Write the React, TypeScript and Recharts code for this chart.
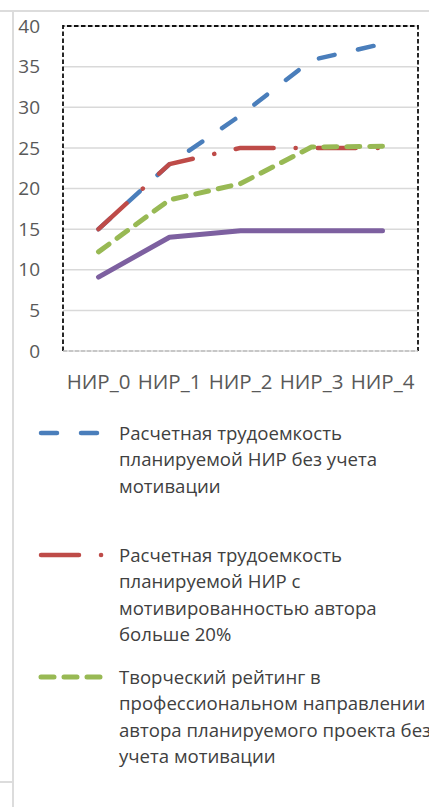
import { LineChart, Line, XAxis, YAxis, CartesianGrid, usePlotArea } from "recharts";

const categories = ["НИР_0", "НИР_1", "НИР_2", "НИР_3", "НИР_4"];
const yTicks = [0, 5, 10, 15, 20, 25, 30, 35, 40];

const laborNoMotivation = [15, 23, 29, 35.8, 37.8];
const laborMotivated = [15, 23, 25, 25, 25];
const creativeRating = [12.2, 18.6, 20.6, 25.1, 25.2];
const fourthSeries = [9.1, 14, 14.8, 14.8, 14.8];

const legendNames = [
  "Расчетная трудоемкость\nпланируемой НИР без учета\nмотивации",
  "Расчетная трудоемкость\nпланируемой НИР с\nмотивированностью автора\nбольше 20%",
  "Творческий рейтинг в\nпрофессиональном направлении\nавтора планируемого проекта без\nучета мотивации",
];

const data = categories.map((c, i) => ({
  name: c,
  blue: laborNoMotivation[i],
  red: laborMotivated[i],
  green: creativeRating[i],
  purple: fourthSeries[i],
}));

const series = [
  { key: "blue", color: "#4A7EBB", width: 4.5, dash: "16 24" },
  { key: "red", color: "#BE4B48", width: 4.5, dash: "38 22 0.1 22" },
  { key: "green", color: "#98B954", width: 5, dash: "13 10" },
  { key: "purple", color: "#7D60A0", width: 5, dash: undefined },
];

const font = "'Open Sans', sans-serif";
const yTickStyle = { fill: "#595959", fontSize: 19, fontFamily: font };
const xTickStyle = { fill: "#595959", fontSize: 20.5, fontFamily: font };

function PlotFrame() {
  const p = usePlotArea();
  if (!p) return null;
  const { x, y, width, height } = p;
  return (
    <path
      d={`M${x},${y + height} L${x},${y} L${x + width},${y} L${x + width},${y + height}`}
      fill="none"
      stroke="#111"
      strokeWidth={1.8}
      strokeDasharray="4.5 2.5"
    />
  );
}

export default function App() {
  return (
    <div style={{ position: "absolute", left: 0, top: 0, width: 429, height: 807, background: "#fff", overflow: "hidden", fontFamily: font }}>
      {/* sheet borders */}
      <div style={{ position: "absolute", left: 0, top: 10, width: 429, height: 2, background: "#dcdcdc" }} />
      <div style={{ position: "absolute", left: 12, top: 10, width: 2, height: 797, background: "#dcdcdc" }} />
      <div style={{ position: "absolute", left: 0, top: 781, width: 12, height: 2, background: "#dcdcdc" }} />

      <div style={{ position: "absolute", left: 0, top: 0 }}>
        <LineChart width={429} height={400} data={data} margin={{ top: 26, right: 11, left: 0, bottom: 0 }}>
          <CartesianGrid vertical={false} stroke="#d9d9d9" strokeWidth={1.5} />
          <XAxis
            dataKey="name"
            padding={{ left: 35.5, right: 35.5 }}
            height={49}
            tickLine={false}
            tickSize={0}
            tickMargin={23}
            axisLine={{ stroke: "#bfbfbf", strokeWidth: 1.5, strokeDasharray: "4 2" }}
            tick={xTickStyle}
            interval={0}
          />
          <YAxis
            width={63}
            domain={[0, 40]}
            ticks={yTicks}
            axisLine={false}
            tickLine={false}
            tickSize={0}
            tickMargin={23}
            tick={yTickStyle}
          />
          <PlotFrame />
          {series.map((s) => (
            <Line
              key={s.key}
              dataKey={s.key}
              stroke={s.color}
              strokeWidth={s.width}
              strokeDasharray={s.dash}
              strokeLinecap="round"
              strokeLinejoin="round"
              dot={false}
              activeDot={false}
              isAnimationActive={false}
            />
          ))}
        </LineChart>
      </div>

      {/* legend */}
      <div style={{ position: "absolute", left: 0, top: 420 }}>
        {legendNames.map((name, i) => {
          const s = series[i];
          return (
            <div key={i} style={{ position: "relative", height: 122 }}>
              <svg width={80} height={12} style={{ position: "absolute", left: 35, top: 7 }}>
                <line
                  x1={6}
                  y1={6}
                  x2={68}
                  y2={6}
                  stroke={s.color}
                  strokeWidth={s.width}
                  strokeDasharray={s.dash}
                  strokeLinecap="round"
                />
              </svg>
              <div
                style={{
                  position: "absolute",
                  left: 119,
                  top: 0,
                  width: 330,
                  whiteSpace: "pre",
                  fontSize: 18.6,
                  lineHeight: "26.3px",
                  color: "#404040",
                }}
              >
                {name}
              </div>
            </div>
          );
        })}
      </div>
    </div>
  );
}
